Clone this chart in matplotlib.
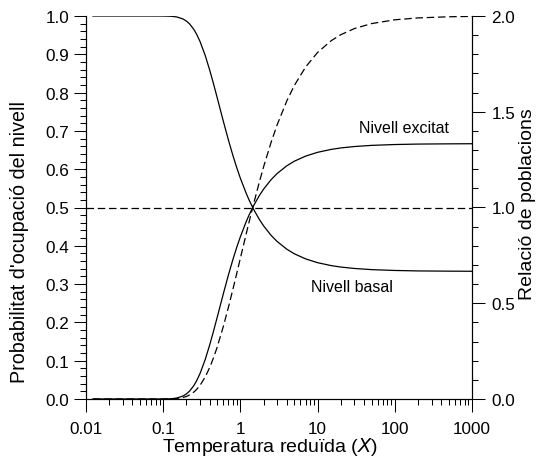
import matplotlib
matplotlib.use('Agg')
import matplotlib.pyplot as plt
from matplotlib.ticker import LogLocator, FixedLocator, MultipleLocator, FuncFormatter

plt.rcParams['font.family'] = ['Liberation Sans', 'DejaVu Sans']

# reduced temperature X
temperature = [0.0123, 0.03, 0.05, 0.08, 0.1, 0.12, 0.13, 0.15, 0.18, 0.2, 0.22, 0.25, 0.27,
               0.3, 0.35, 0.4, 0.45, 0.5, 0.6, 0.7, 0.8, 0.9, 1.0, 1.2, 1.3, 1.44, 1.5,
               1.75, 2, 2.5, 3, 4, 5, 7, 10, 15, 20, 30, 50, 100, 200, 500, 1000]

# occupation probability of the excited level
excited = [0.0, 0.0, 0.0, 0.0, 0.0001, 0.0005, 0.0009, 0.0025, 0.0077, 0.0133, 0.0208, 0.0353, 0.0470,
           0.0666, 0.1030, 0.1410, 0.1781, 0.2130, 0.2742, 0.3240, 0.3643, 0.3970, 0.4239, 0.4650, 0.4810, 0.4997, 0.5066,
           0.5304, 0.5481, 0.5728, 0.5890, 0.6090, 0.6209, 0.6342, 0.6441, 0.6517, 0.6555, 0.6592, 0.6622, 0.6644, 0.6656, 0.6662, 0.6665]

# occupation probability of the ground level
basal = [1.0, 1.0, 1.0, 1.0, 0.9999, 0.9995, 0.9991, 0.9975, 0.9923, 0.9867, 0.9792, 0.9647, 0.9530,
         0.9334, 0.8970, 0.8590, 0.8219, 0.7870, 0.7258, 0.6760, 0.6357, 0.6030, 0.5761, 0.5350, 0.5190, 0.5003, 0.4934,
         0.4696, 0.4519, 0.4272, 0.4110, 0.3910, 0.3791, 0.3658, 0.3559, 0.3483, 0.3445, 0.3408, 0.3378, 0.3356, 0.3344, 0.3338, 0.3335]

# population ratio (right axis)
ratio = [0.0, 0.0, 0.0, 0.0, 0.0001, 0.0005, 0.0009, 0.0025, 0.0077, 0.0135, 0.0212, 0.0366, 0.0493,
         0.0714, 0.1149, 0.1642, 0.2167, 0.2707, 0.3778, 0.4793, 0.5730, 0.6584, 0.7358, 0.8692, 0.9267, 0.9987, 1.0268,
         1.1294, 1.2131, 1.3406, 1.4331, 1.5576, 1.6375, 1.7338, 1.8097, 1.8710, 1.9025, 1.9344, 1.9604, 1.9801, 1.9900, 1.9960, 1.9980]

x_ticks = [0.01, 0.1, 1, 10, 100, 1000]
x_tick_labels = ['0.01', '0.1', '1', '10', '100', '1000']

W, H = 536, 460
fig = plt.figure(figsize=(W/100, H/100), dpi=100)
ax = fig.add_axes([86/W, 60/H, 386/W, 383/H])
ax2 = ax.twinx()

lw = 0.9
ax.plot(temperature, excited, color='black', linewidth=lw)
ax.plot(temperature, basal, color='black', linewidth=lw)
ax.axhline(y=0.5, color='black', linewidth=lw, dashes=(6, 3))
ax2.plot(temperature, ratio, color='black', linewidth=lw, dashes=(6, 3))

ax.set_xscale('log')
ax.set_xlim(0.01, 1000)
ax.set_ylim(0, 1)
ax2.set_ylim(0, 2)

ax.xaxis.set_major_locator(FixedLocator(x_ticks))
ax.set_xticklabels(x_tick_labels)
ax.xaxis.set_minor_locator(LogLocator(base=10, subs=range(2, 10)))
ax.xaxis.set_minor_formatter(FuncFormatter(lambda v, p: ''))

ax.yaxis.set_major_locator(MultipleLocator(0.1))
ax.yaxis.set_minor_locator(MultipleLocator(0.02))
ax.yaxis.set_major_formatter(FuncFormatter(lambda v, p: f'{v:.1f}'))
ax2.yaxis.set_major_locator(MultipleLocator(0.5))
ax2.yaxis.set_minor_locator(MultipleLocator(0.1))
ax2.yaxis.set_major_formatter(FuncFormatter(lambda v, p: f'{v:.1f}'))

for a in (ax, ax2):
    a.spines['top'].set_visible(False)
    for s in a.spines.values():
        s.set_linewidth(0.8)
    a.tick_params(which='major', length=9, width=0.75, labelsize=12.3, direction='out')
    a.tick_params(which='minor', length=4, width=0.75, direction='out')

ax.tick_params(axis='x', which='major', pad=7)
ax.tick_params(axis='y', which='major', pad=3)
ax2.tick_params(axis='y', which='major', pad=5)

# axis titles placed where the reference has them
fig.text(270/W, 1 - 452/H, 'Temperatura reduïda ($\\mathit{X}$)', fontsize=14,
         ha='center', va='baseline')
fig.text(20/W, 1 - 242/H, "Probabilitat d'ocupació del nivell", fontsize=14.2,
         rotation=90, ha='center', va='center')
fig.text(527/W, 1 - 204/H, 'Relació de poblacions', fontsize=14,
         rotation=90, ha='center', va='center')

ax.text(34.4, 0.708, 'Nivell excitat', fontsize=11.5, va='center', ha='left')
ax.text(8.2, 0.295, 'Nivell basal', fontsize=11.5, va='center', ha='left')

fig.savefig('out.png', dpi=100)
